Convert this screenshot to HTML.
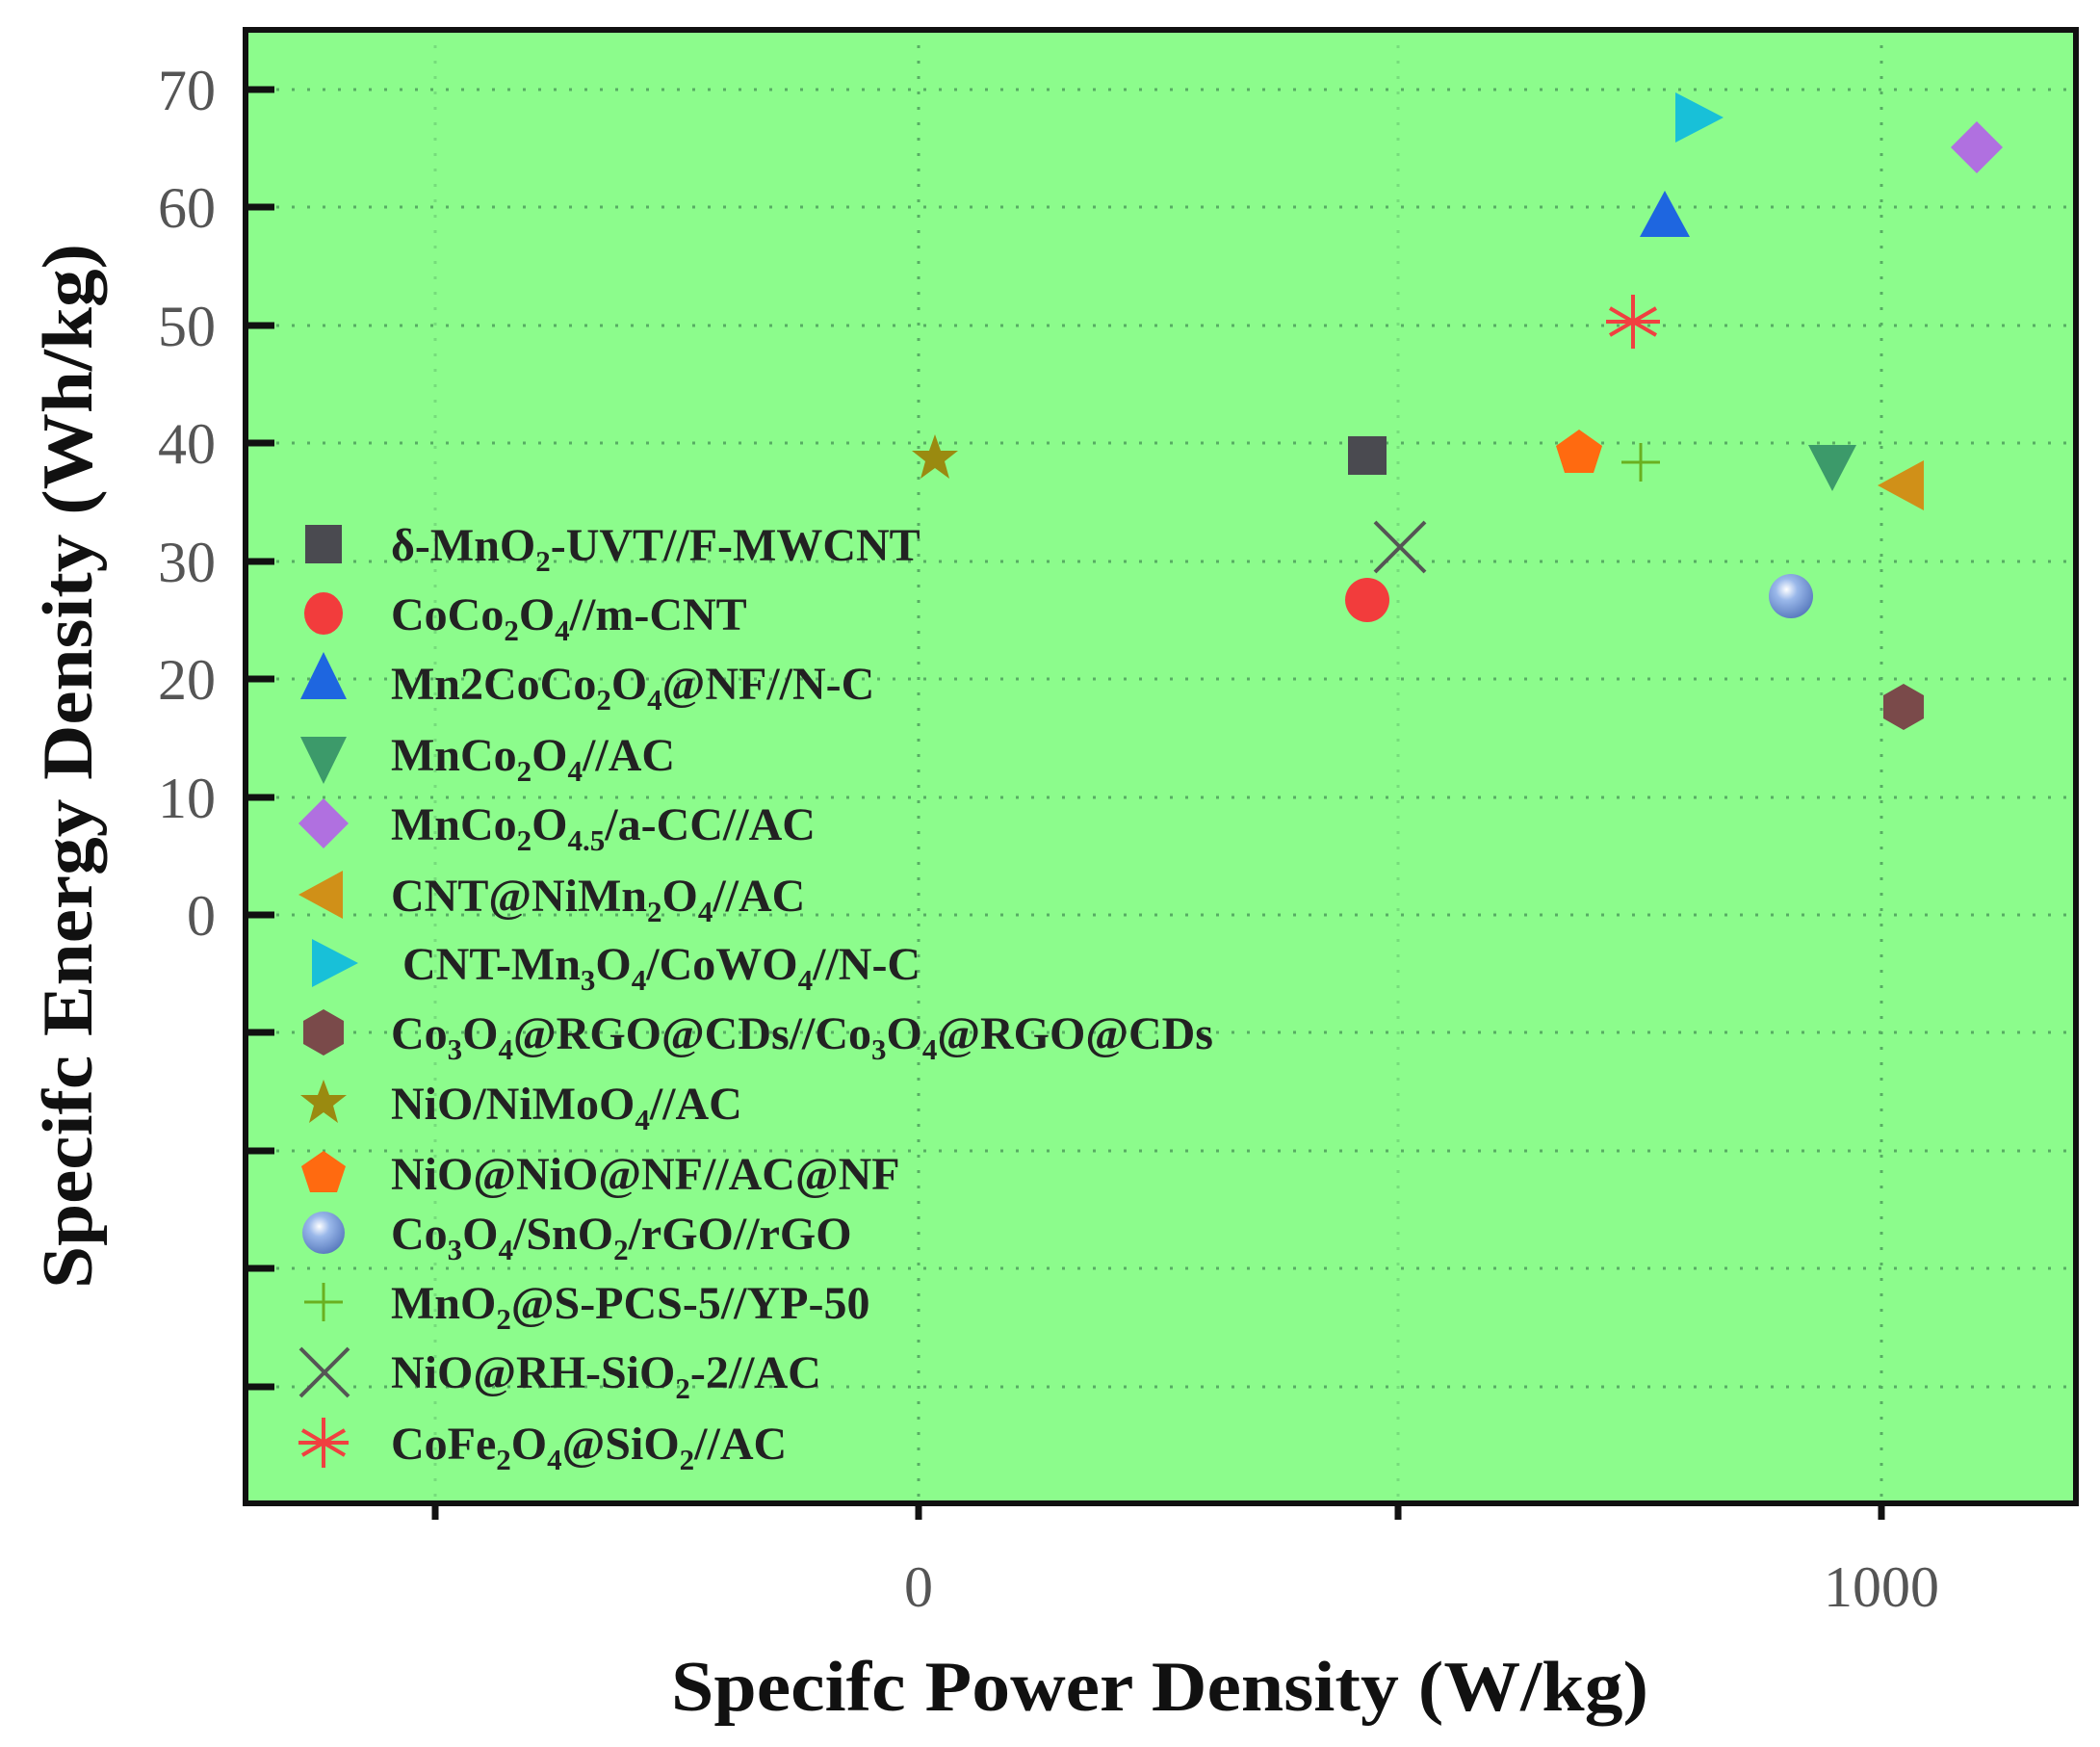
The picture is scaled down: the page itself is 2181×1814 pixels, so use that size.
<!DOCTYPE html>
<html><head><meta charset="utf-8"><style>
html,body{margin:0;padding:0;background:#fff;}
svg{display:block;}
.tk{font-family:"Liberation Serif",serif;font-size:60px;fill:#555;}
.lg{font-family:"Liberation Serif",serif;font-size:48px;font-weight:bold;fill:#222;}
.ti{font-family:"Liberation Serif",serif;font-size:74px;font-weight:bold;fill:#111;}
.g{stroke:#4a9a5a;stroke-width:3;stroke-dasharray:3 13;opacity:0.8}
</style></head><body>
<svg width="2181" height="1814" viewBox="0 0 2181 1814" xmlns="http://www.w3.org/2000/svg">
<defs>
<radialGradient id="sph" cx="0.4" cy="0.35" r="0.7"><stop offset="0" stop-color="#ffffff"/><stop offset="0.35" stop-color="#9ab8ea"/><stop offset="1" stop-color="#5577bb"/></radialGradient>
</defs>
<rect x="255" y="31" width="1901" height="1530" fill="#8cfc8c"/>
<g class="g">
<line x1="255" y1="93" x2="2156" y2="93"/><line x1="255" y1="215" x2="2156" y2="215"/>
<line x1="255" y1="338" x2="2156" y2="338"/><line x1="255" y1="460" x2="2156" y2="460"/>
<line x1="255" y1="583" x2="2156" y2="583"/><line x1="255" y1="705" x2="2156" y2="705"/>
<line x1="255" y1="828" x2="2156" y2="828"/><line x1="255" y1="950" x2="2156" y2="950"/>
<line x1="255" y1="1072" x2="2156" y2="1072"/><line x1="255" y1="1195" x2="2156" y2="1195"/>
<line x1="255" y1="1317" x2="2156" y2="1317"/><line x1="255" y1="1440" x2="2156" y2="1440"/>
<line x1="954" y1="31" x2="954" y2="1561"/><line x1="1954" y1="31" x2="1954" y2="1561"/>
<line x1="1452" y1="31" x2="1452" y2="1561" opacity="0.4"/><line x1="452" y1="31" x2="452" y2="1561" opacity="0.4"/>
</g>
<rect x="255" y="31" width="1901" height="1530" fill="none" stroke="#111" stroke-width="6"/>
<g stroke="#111" stroke-width="7">
<line x1="255" y1="93" x2="285" y2="93"/><line x1="255" y1="215" x2="285" y2="215"/>
<line x1="255" y1="338" x2="285" y2="338"/><line x1="255" y1="460" x2="285" y2="460"/>
<line x1="255" y1="583" x2="285" y2="583"/><line x1="255" y1="705" x2="285" y2="705"/>
<line x1="255" y1="828" x2="285" y2="828"/><line x1="255" y1="950" x2="285" y2="950"/>
<line x1="255" y1="1072" x2="285" y2="1072"/><line x1="255" y1="1195" x2="285" y2="1195"/>
<line x1="255" y1="1317" x2="285" y2="1317"/><line x1="255" y1="1440" x2="285" y2="1440"/>
<line x1="452" y1="1561" x2="452" y2="1578"/><line x1="954" y1="1561" x2="954" y2="1578"/>
<line x1="1452" y1="1561" x2="1452" y2="1578"/><line x1="1954" y1="1561" x2="1954" y2="1578"/>
</g>
<g class="tk" text-anchor="end">
<text x="224" y="114">70</text><text x="224" y="236">60</text><text x="224" y="359">50</text>
<text x="224" y="481">40</text><text x="224" y="604">30</text><text x="224" y="726">20</text>
<text x="224" y="849">10</text><text x="224" y="971">0</text>
</g>
<g class="tk" text-anchor="middle"><text x="954" y="1668">0</text><text x="1954" y="1668">1000</text></g>
<text class="ti" x="697" y="1776" textLength="1015" lengthAdjust="spacingAndGlyphs">Specifc Power Density (W/kg)</text>
<text class="ti" transform="translate(95,1338) rotate(-90)" textLength="1085" lengthAdjust="spacingAndGlyphs">Specifc Energy Density (Wh/kg)</text>

<rect x="1400" y="453" width="40" height="40" fill="#4a4a50"/>
<circle cx="1420" cy="623" r="23" fill="#f23c3c"/>
<polygon points="1729,198 1755,246 1703,246" fill="#1e66e0"/>
<polygon points="1878,462 1928,462 1903,510" fill="#3c9a6a"/>
<polygon points="2053,126 2080,153 2053,180 2026,153" fill="#b070e0"/>
<polygon points="1950,504 1998,478 1998,530" fill="#d09018"/>
<polygon points="1790,122 1740,96 1740,148" fill="#18c0d8"/>
<polygon points="1977,710 1998,722 1998,746 1977,758 1956,746 1956,722" fill="#7a4a4a"/>
<polygon points="971,451 977,468 995,468 981,479 986,497 971,486 956,497 961,479 947,468 965,468" fill="#9a8a10"/>
<polygon points="1640,446 1664,463 1655,491 1625,491 1616,463" fill="#ff6a10"/>
<circle cx="1860" cy="619" r="23" fill="url(#sph)"/>
<g stroke="#6ab020" stroke-width="3"><line x1="1684" y1="480" x2="1724" y2="480"/><line x1="1704" y1="460" x2="1704" y2="500"/></g>
<g stroke="#555" stroke-width="4"><line x1="1428" y1="542" x2="1480" y2="594"/><line x1="1480" y1="542" x2="1428" y2="594"/></g>
<g stroke="#f04040" stroke-width="4"><line x1="1696" y1="306" x2="1696" y2="362"/><line x1="1672" y1="320" x2="1720" y2="348"/><line x1="1672" y1="348" x2="1720" y2="320"/><line x1="1668" y1="334" x2="1724" y2="334"/></g>

<rect x="317" y="545" width="38" height="40" fill="#4a4a50"/>
<ellipse cx="336" cy="637" rx="20" ry="22" fill="#f23c3c"/>
<polygon points="336,677 360,726 312,726" fill="#1e66e0"/>
<polygon points="312,765 360,765 336,814" fill="#3c9a6a"/>
<polygon points="336,829 362,855 336,881 310,855" fill="#b070e0"/>
<polygon points="310,929 356,904 356,954" fill="#d09018"/>
<polygon points="372,1000 324,975 324,1025" fill="#18c0d8"/>
<polygon points="336,1048 357,1060 357,1084 336,1096 315,1084 315,1060" fill="#7a4a4a"/>
<polygon points="336,1121 342,1137 360,1137 346,1148 351,1166 336,1155 321,1166 326,1148 312,1137 330,1137" fill="#9a8a10"/>
<polygon points="336,1195 359,1211 350,1238 322,1238 313,1211" fill="#ff6a10"/>
<circle cx="336" cy="1280" r="22" fill="url(#sph)"/>
<g stroke="#6ab020" stroke-width="3"><line x1="316" y1="1352" x2="356" y2="1352"/><line x1="336" y1="1332" x2="336" y2="1372"/></g>
<g stroke="#555" stroke-width="4"><line x1="312" y1="1400" x2="362" y2="1450"/><line x1="362" y1="1400" x2="312" y2="1450"/></g>
<g stroke="#f04040" stroke-width="4"><line x1="336" y1="1472" x2="336" y2="1524"/><line x1="314" y1="1485" x2="358" y2="1511"/><line x1="314" y1="1511" x2="358" y2="1485"/><line x1="310" y1="1498" x2="362" y2="1498"/></g>

<g class="lg">
<text x="406" y="582">δ-MnO<tspan dy="11" font-size="31">2</tspan><tspan dy="-11">-UVT//F-MWCNT</tspan></text>
<text x="406" y="654">CoCo<tspan dy="11" font-size="31">2</tspan><tspan dy="-11">O</tspan><tspan dy="11" font-size="31">4</tspan><tspan dy="-11">//m-CNT</tspan></text>
<text x="406" y="726">Mn2CoCo<tspan dy="11" font-size="31">2</tspan><tspan dy="-11">O</tspan><tspan dy="11" font-size="31">4</tspan><tspan dy="-11">@NF//N-C</tspan></text>
<text x="406" y="800">MnCo<tspan dy="11" font-size="31">2</tspan><tspan dy="-11">O</tspan><tspan dy="11" font-size="31">4</tspan><tspan dy="-11">//AC</tspan></text>
<text x="406" y="872">MnCo<tspan dy="11" font-size="31">2</tspan><tspan dy="-11">O</tspan><tspan dy="11" font-size="31">4.5</tspan><tspan dy="-11">/a-CC//AC</tspan></text>
<text x="406" y="946">CNT@NiMn<tspan dy="11" font-size="31">2</tspan><tspan dy="-11">O</tspan><tspan dy="11" font-size="31">4</tspan><tspan dy="-11">//AC</tspan></text>
<text x="418" y="1017">CNT-Mn<tspan dy="11" font-size="31">3</tspan><tspan dy="-11">O</tspan><tspan dy="11" font-size="31">4</tspan><tspan dy="-11">/CoWO</tspan><tspan dy="11" font-size="31">4</tspan><tspan dy="-11">//N-C</tspan></text>
<text x="406" y="1089">Co<tspan dy="11" font-size="31">3</tspan><tspan dy="-11">O</tspan><tspan dy="11" font-size="31">4</tspan><tspan dy="-11">@RGO@CDs//Co</tspan><tspan dy="11" font-size="31">3</tspan><tspan dy="-11">O</tspan><tspan dy="11" font-size="31">4</tspan><tspan dy="-11">@RGO@CDs</tspan></text>
<text x="406" y="1162">NiO/NiMoO<tspan dy="11" font-size="31">4</tspan><tspan dy="-11">//AC</tspan></text>
<text x="406" y="1235">NiO@NiO@NF//AC@NF</text>
<text x="406" y="1297">Co<tspan dy="11" font-size="31">3</tspan><tspan dy="-11">O</tspan><tspan dy="11" font-size="31">4</tspan><tspan dy="-11">/SnO</tspan><tspan dy="11" font-size="31">2</tspan><tspan dy="-11">/rGO//rGO</tspan></text>
<text x="406" y="1369">MnO<tspan dy="11" font-size="31">2</tspan><tspan dy="-11">@S-PCS-5//YP-50</tspan></text>
<text x="406" y="1441">NiO@RH-SiO<tspan dy="11" font-size="31">2</tspan><tspan dy="-11">-2//AC</tspan></text>
<text x="406" y="1515">CoFe<tspan dy="11" font-size="31">2</tspan><tspan dy="-11">O</tspan><tspan dy="11" font-size="31">4</tspan><tspan dy="-11">@SiO</tspan><tspan dy="11" font-size="31">2</tspan><tspan dy="-11">//AC</tspan></text>
</g>
</svg>
</body></html>
